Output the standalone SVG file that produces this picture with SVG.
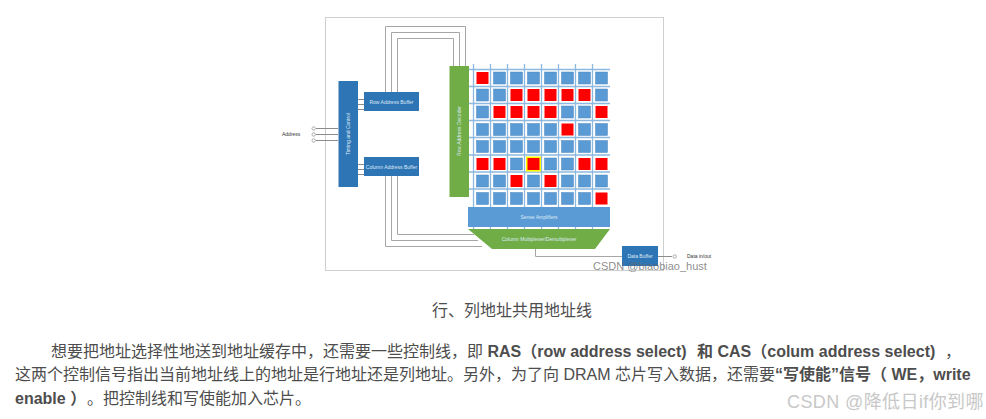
<svg xmlns="http://www.w3.org/2000/svg" width="986" height="419" viewBox="0 0 986 419">
<defs><style>
.wire{fill:none;stroke:#a6a6a6;stroke-width:1}
.stub{fill:none;stroke:#8c8c8c;stroke-width:1}
.grid{stroke:#8db9e0;stroke-width:1.3;fill:none}
.b{fill:#5b9bd5;stroke:#4a86bd;stroke-width:.5}
.r{fill:#ff0000}
.block{fill:#2e75b6}
.lab{font-family:"Liberation Sans",sans-serif;font-size:5px;fill:#dfeaf5;text-anchor:middle}
.ext{font-family:"Liberation Sans",sans-serif;font-size:5px;fill:#333}
.port{fill:#fff;stroke:#999;stroke-width:.8}
.body{font-family:"Liberation Sans","Noto Sans CJK SC",sans-serif;font-size:16px;fill:#4d4d4d}
.bold{font-weight:700}
</style></defs>
<rect width="986" height="419" fill="#fff"/>
<rect id="frame" x="325.500" y="17.500" width="338" height="253" fill="#fff" stroke="#cfcfcf"/>
<g id="connectors">
<path class="wire" d="M385.500 92V26.500H465.500V66M391.500 92V32.500H459.500V66M397.500 92V38.500H453.500V66"/>
<path class="wire" d="M385.500 176V246.500H482M391.500 176V240.500H478M397.500 176V234.500H474"/>
<path class="wire" d="M535.500 249V256.500H622"/>
<path class="stub" d="M358 99.500H364M358 104.500H364M358 109.500H364M358 164.500H364M358 169.500H364M358 174.500H364"/>
<path class="stub" d="M316 128.500H338M316 134.500H338M316 140.500H338M658 256.500H672"/>
<circle class="port" cx="313.700" cy="128.500" r="1.700"/><circle class="port" cx="313.700" cy="134.500" r="1.700"/><circle class="port" cx="313.700" cy="140.500" r="1.700"/><circle class="port" cx="674.700" cy="256.500" r="1.700"/>
</g>
<g id="array-lines">
<path class="grid" d="M469 69.500H610M469 86.500H610M469 103.500H610M469 120.500H610M469 137.500H610M469 155H610M469 172H610M469 189H610"/>
<path class="grid" d="M473.500 64V230M490.500 64V230M507.500 64V230M524.500 64V230M541.500 64V230M558.500 64V230M575.500 64V230M592.500 64V230"/>
</g>
<g id="cells">
<rect class="r" x="476.500" y="72" width="12" height="12"/><rect class="b" x="493.500" y="72" width="12" height="12"/><rect class="b" x="510.500" y="72" width="12" height="12"/><rect class="b" x="527.500" y="72" width="12" height="12"/><rect class="b" x="544.500" y="72" width="12" height="12"/><rect class="b" x="561.500" y="72" width="12" height="12"/><rect class="b" x="578.500" y="72" width="12" height="12"/><rect class="b" x="595.500" y="72" width="12" height="12"/>
<rect class="b" x="476.500" y="89" width="12" height="12"/><rect class="b" x="493.500" y="89" width="12" height="12"/><rect class="r" x="510.500" y="89" width="12" height="12"/><rect class="r" x="527.500" y="89" width="12" height="12"/><rect class="r" x="544.500" y="89" width="12" height="12"/><rect class="r" x="561.500" y="89" width="12" height="12"/><rect class="r" x="578.500" y="89" width="12" height="12"/><rect class="b" x="595.500" y="89" width="12" height="12"/>
<rect class="b" x="476.500" y="106" width="12" height="12"/><rect class="r" x="493.500" y="106" width="12" height="12"/><rect class="r" x="510.500" y="106" width="12" height="12"/><rect class="r" x="527.500" y="106" width="12" height="12"/><rect class="r" x="544.500" y="106" width="12" height="12"/><rect class="b" x="561.500" y="106" width="12" height="12"/><rect class="b" x="578.500" y="106" width="12" height="12"/><rect class="r" x="595.500" y="106" width="12" height="12"/>
<rect class="b" x="476.500" y="123.500" width="12" height="12"/><rect class="b" x="493.500" y="123.500" width="12" height="12"/><rect class="b" x="510.500" y="123.500" width="12" height="12"/><rect class="b" x="527.500" y="123.500" width="12" height="12"/><rect class="b" x="544.500" y="123.500" width="12" height="12"/><rect class="r" x="561.500" y="123.500" width="12" height="12"/><rect class="b" x="578.500" y="123.500" width="12" height="12"/><rect class="b" x="595.500" y="123.500" width="12" height="12"/>
<rect class="b" x="476.500" y="140.500" width="12" height="12"/><rect class="b" x="493.500" y="140.500" width="12" height="12"/><rect class="b" x="510.500" y="140.500" width="12" height="12"/><rect class="b" x="527.500" y="140.500" width="12" height="12"/><rect class="b" x="544.500" y="140.500" width="12" height="12"/><rect class="b" x="561.500" y="140.500" width="12" height="12"/><rect class="b" x="578.500" y="140.500" width="12" height="12"/><rect class="b" x="595.500" y="140.500" width="12" height="12"/>
<rect class="r" x="476.500" y="158" width="12" height="12"/><rect class="r" x="493.500" y="158" width="12" height="12"/><rect class="b" x="510.500" y="158" width="12" height="12"/><rect x="526" y="156.500" width="15" height="15" fill="#ffff00"/><rect class="r" x="527.500" y="158" width="12" height="12"/><rect class="b" x="544.500" y="158" width="12" height="12"/><rect class="b" x="561.500" y="158" width="12" height="12"/><rect class="r" x="578.500" y="158" width="12" height="12"/><rect class="r" x="595.500" y="158" width="12" height="12"/>
<rect class="b" x="476.500" y="175" width="12" height="12"/><rect class="b" x="493.500" y="175" width="12" height="12"/><rect class="r" x="510.500" y="175" width="12" height="12"/><rect class="b" x="527.500" y="175" width="12" height="12"/><rect class="r" x="544.500" y="175" width="12" height="12"/><rect class="b" x="561.500" y="175" width="12" height="12"/><rect class="b" x="578.500" y="175" width="12" height="12"/><rect class="b" x="595.500" y="175" width="12" height="12"/>
<rect class="b" x="476.500" y="192.500" width="12" height="12"/><rect class="b" x="493.500" y="192.500" width="12" height="12"/><rect class="b" x="510.500" y="192.500" width="12" height="12"/><rect class="b" x="527.500" y="192.500" width="12" height="12"/><rect class="b" x="544.500" y="192.500" width="12" height="12"/><rect class="b" x="561.500" y="192.500" width="12" height="12"/><rect class="b" x="578.500" y="192.500" width="12" height="12"/><rect class="r" x="595.500" y="192.500" width="12" height="12"/>
</g>
<g id="timing-control"><rect class="block" x="338.500" y="81" width="19.500" height="106"/><text class="lab" transform="translate(350 134) rotate(-90)">Timing and Control</text></g>
<g id="row-address-buffer"><rect class="block" x="364" y="92" width="55" height="19"/><text class="lab" x="391.500" y="103.500">Row Address Buffer</text></g>
<g id="column-address-buffer"><rect class="block" x="364" y="157" width="55" height="19"/><text class="lab" x="391.500" y="168.500">Column Address Buffer</text></g>
<g id="row-address-decoder"><rect x="449.500" y="66" width="19.500" height="131" fill="#70ad47"/><text class="lab" transform="translate(461 131) rotate(-90)">Row Address Decoder</text></g>
<g id="sense-amplifiers"><rect x="468" y="207" width="142" height="20" fill="#5b9bd5"/><text class="lab" x="539" y="218.500">Sense Amplifiers</text></g>
<g id="column-mux"><polygon points="468,229 610,229 595,249 492,249" fill="#70ad47"/><text class="lab" x="539" y="241">Column Multiplexer/Demultiplexer</text></g>
<g id="data-buffer"><rect class="block" x="622" y="246" width="36" height="20"/><text class="lab" x="640" y="257.500">Data Buffer</text></g>
<text id="address-label" class="ext" x="282" y="136">Address</text>
<text id="data-label" class="ext" x="687" y="258">Data in/out</text>
<text id="mark-small" x="593" y="270" font-family="'Liberation Sans',sans-serif" font-size="11" fill="#666" fill-opacity=".75">CSDN @biaobiao_hust</text>
<text id="caption" class="body" x="512" y="316" text-anchor="middle">行、列地址共用地址线</text>
<g id="paragraph">
<text class="body" x="51" y="357">想要把地址选择性地送到地址缓存中，还需要一些控制线，即 <tspan class="bold">RAS（row address select)</tspan><tspan class="bold" x="697">和 CAS（colum address select)</tspan><tspan x="945">，</tspan></text>
<text class="body" x="15" y="380">这两个控制信号指出当前地址线上的地址是行地址还是列地址。另外，为了向 DRAM 芯片写入数据，还需要<tspan class="bold">“写使能”信号（ WE，write</tspan></text>
<text class="body" x="15" y="404"><tspan class="bold">enable ）</tspan><tspan x="87">。把控制线和写使能加入芯片。</tspan></text>
</g>
<text id="mark-large" x="787" y="408" font-family="'Liberation Sans','Noto Sans CJK SC',sans-serif" font-size="18" letter-spacing=".4" fill="#c8c8c8">CSDN @降低日if你到哪</text>
</svg>
